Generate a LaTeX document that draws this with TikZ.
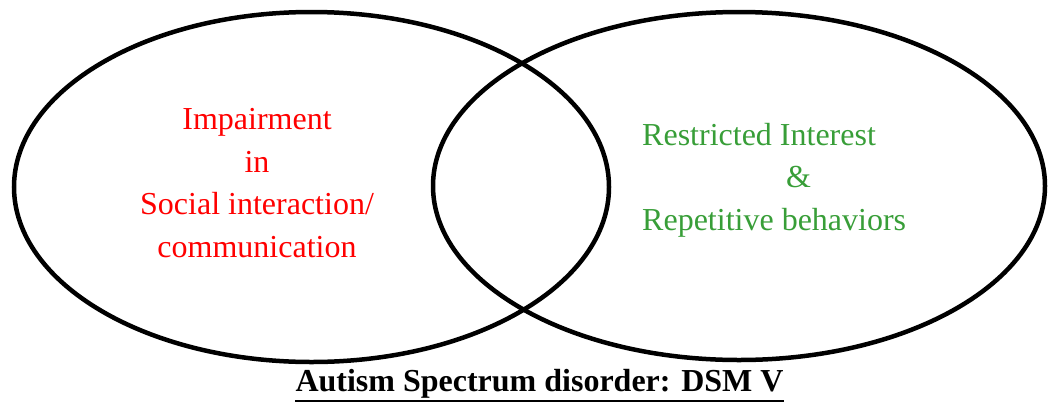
\documentclass[tikz,border=0pt]{standalone}
\usepackage{fontspec}
\setmainfont{Liberation Serif}
\definecolor{redtext}{RGB}{255,0,0}
\definecolor{greentext}{RGB}{56,158,56}
\begin{document}
\begin{tikzpicture}[x=1pt,y=-1pt,
  ring/.style={draw=black,line width=4.5pt},
  lbl/.style={inner sep=0pt,font=\fontsize{32}{42.5}\selectfont},
]
\useasboundingbox (0,0) rectangle (1049,405);
\draw[ring] (311.5,187) ellipse [x radius=297.5pt, y radius=175pt];
\draw[ring] (739,186) ellipse [x radius=306pt, y radius=174pt];
\node[lbl,text=redtext,align=center,anchor=base] (imp) at (257,257)
  {Impairment\\in\\Social interaction/\\communication};
\node[lbl,text=greentext,align=left,anchor=base west] (rest) at (642,230)
  {Restricted Interest\\\hspace*{144pt}\&\\Repetitive behaviors};
\node[lbl,font=\fontsize{32}{38}\selectfont\bfseries,anchor=base] (title) at (539.5,391)
  {Autism Spectrum disorder: DSM V};
\draw[line width=2.5pt] ([yshift=-10pt]title.base west) -- ([yshift=-10pt]title.base east);
\end{tikzpicture}
\end{document}
